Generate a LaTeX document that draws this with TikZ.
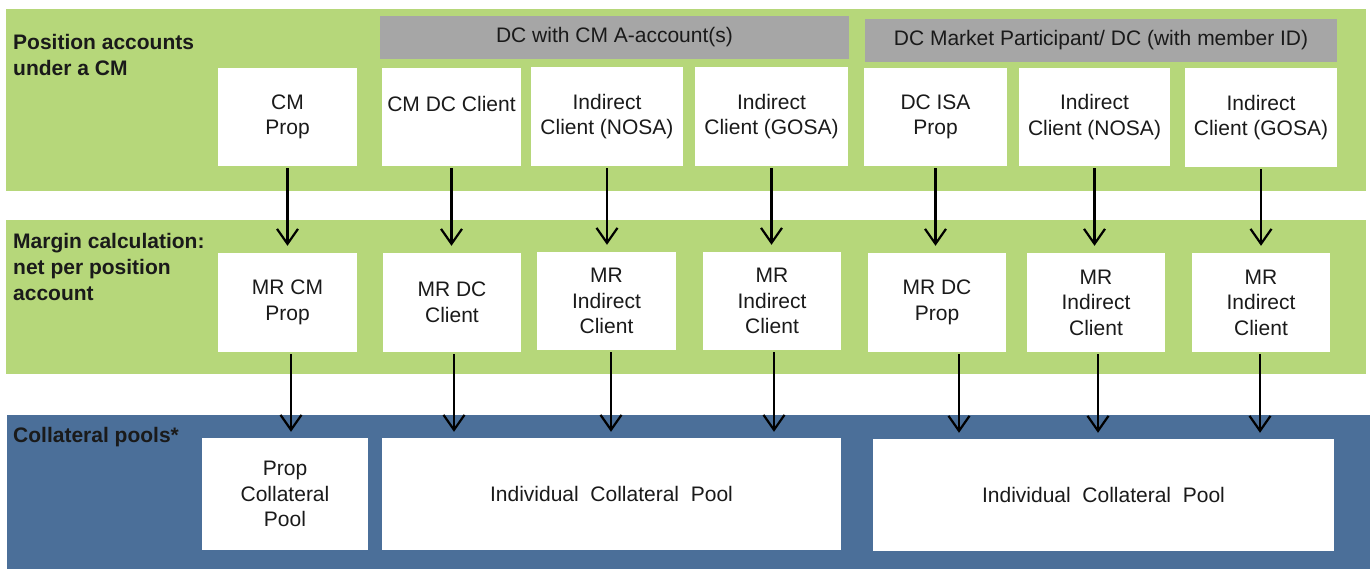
\documentclass[tikz,border=0pt]{standalone}
\usepackage{fontspec}
\setmainfont{Liberation Sans}
\usetikzlibrary{arrows.meta}
\definecolor{bandgreen}{HTML}{B6D77A}
\definecolor{bandblue}{HTML}{4B6F99}
\definecolor{hdrgray}{HTML}{A6A6A6}
\definecolor{txt}{HTML}{1A1A1A}
\begin{document}
\begin{tikzpicture}[x=1pt,y=-1pt,
  every node/.style={text=txt},
  box/.style={fill=white, draw=none, inner sep=0pt, align=center,
    font=\fontsize{21}{25.5}\selectfont},
  hdr/.style={fill=hdrgray, draw=none, inner sep=0pt, align=center,
    minimum height=43pt, font=\fontsize{21}{25.5}\selectfont},
  lbl/.style={anchor=north west, inner sep=0pt, align=left,
    font=\bfseries\fontsize{21}{26}\selectfont},
  arr/.style={draw=black, line width=2.2pt,
    -{Straight Barb[length=15pt,width=21pt]}},
  toparr/.style={arr, shorten <=2pt, shorten >=7pt},
  botarr/.style={arr, shorten <=2pt, shorten >=6pt}
]
\useasboundingbox (0,0) rectangle (1370,569);
% bands
\fill[bandgreen] (6,9) rectangle (1366,191);
\fill[bandgreen] (6,220) rectangle (1366,374);
\fill[bandblue] (7,415) rectangle (1370,569);

% band labels
\node[lbl] (l1) at (13,34) {Position accounts\\under a CM};
\node[lbl] (l2) at (13,233) {Margin calculation:\\net per position\\account};
\node[lbl] (l3) at (13,427) {Collateral pools*};

% headers
\node[hdr, minimum width=469pt] (h1) at (614.5,37.5) {DC with CM A-account(s)};
\node[hdr, minimum width=472pt] (h2) at (1101,40.5) {DC Market Participant/ DC (with member ID)};

% top row
\node[box, minimum width=139pt, minimum height=98pt] (tCM) at (287.5,117) {CM\\Prop};
\node[box, minimum width=139pt, minimum height=98pt] (tDC) at (451.5,117) {CM DC Client\\\phantom{X}};
\node[box, minimum width=152pt, minimum height=99pt] (tN1) at (607,116.5) {Indirect\\Client (NOSA)};
\node[box, minimum width=153pt, minimum height=99pt] (tG1) at (771.5,116.5) {Indirect\\Client (GOSA)};
\node[box, minimum width=143pt, minimum height=98pt] (tISA) at (935.5,117) {DC ISA\\Prop};
\node[box, minimum width=151pt, minimum height=98pt] (tN2) at (1094.5,117) {Indirect\\Client (NOSA)};
\node[box, minimum width=152pt, minimum height=99pt] (tG2) at (1261,117.5) {Indirect\\Client (GOSA)};

% middle row
\node[box, minimum width=139pt, minimum height=99pt] (mCM) at (287.5,302.5) {MR CM\\Prop};
\node[box, minimum width=138pt, minimum height=99pt] (mDC) at (452,302.5) {MR DC\\Client};
\node[box, minimum width=139pt, minimum height=98pt] (mN1) at (606.5,301) {MR\\Indirect\\Client};
\node[box, minimum width=138pt, minimum height=98pt] (mG1) at (772,301) {MR\\Indirect\\Client};
\node[box, minimum width=138pt, minimum height=99pt] (mISA) at (937,302.5) {MR DC\\Prop};
\node[box, minimum width=138pt, minimum height=99pt] (mN2) at (1096,302.5) {MR\\Indirect\\Client};
\node[box, minimum width=138pt, minimum height=99pt] (mG2) at (1261,302.5) {MR\\Indirect\\Client};

% pools
\node[box, minimum width=166pt, minimum height=112pt] (pProp) at (285,494) {Prop\\Collateral\\Pool};
\node[box, minimum width=459pt, minimum height=112pt] (pInd1) at (611.5,494) {Individual\ \ Collateral\ \ Pool};
\node[box, minimum width=461pt, minimum height=112pt] (pInd2) at (1103.5,495) {Individual\ \ Collateral\ \ Pool};

% top arrows
\draw[toparr] (tCM.south) -- (tCM.south |- mCM.north);
\draw[toparr] (tDC.south) -- (tDC.south |- mDC.north);
\draw[toparr] (tN1.south) -- (tN1.south |- mN1.north);
\draw[toparr] (tG1.south) -- (tG1.south |- mG1.north);
\draw[toparr] (tISA.south) -- (tISA.south |- mISA.north);
\draw[toparr] (tN2.south) -- (tN2.south |- mN2.north);
\draw[toparr] (tG2.south) -- (tG2.south |- mG2.north);

% bottom arrows
\draw[botarr] ([xshift=3.5pt]mCM.south) -- ([xshift=3.5pt]mCM.south |- pProp.north);
\draw[botarr] ([xshift=2pt]mDC.south) -- ([xshift=2pt]mDC.south |- pInd1.north);
\draw[botarr] ([xshift=4.5pt]mN1.south) -- ([xshift=4.5pt]mN1.south |- pInd1.north);
\draw[botarr] ([xshift=2pt]mG1.south) -- ([xshift=2pt]mG1.south |- pInd1.north);
\draw[botarr] ([xshift=22pt]mISA.south) -- ([xshift=22pt]mISA.south |- pInd2.north);
\draw[botarr] ([xshift=2pt]mN2.south) -- ([xshift=2pt]mN2.south |- pInd2.north);
\draw[botarr] ([xshift=-1pt]mG2.south) -- ([xshift=-1pt]mG2.south |- pInd2.north);
\end{tikzpicture}
\end{document}
